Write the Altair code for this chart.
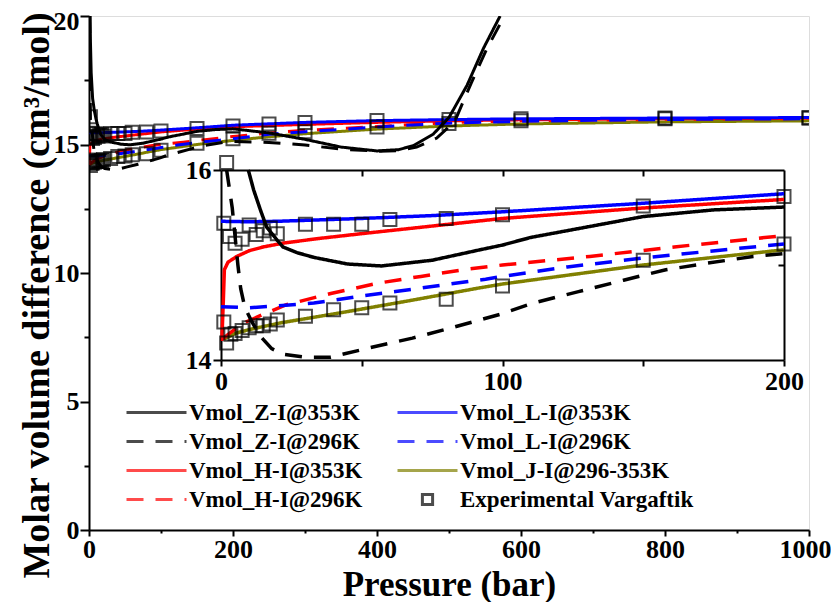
import altair as alt
import pandas as pd

FONT = "Liberation Serif"

Z353 = "Vmol_Z-I@353K"
Z296 = "Vmol_Z-I@296K"
H353 = "Vmol_H-I@353K"
H296 = "Vmol_H-I@296K"
L353 = "Vmol_L-I@353K"
L296 = "Vmol_L-I@296K"
J = "Vmol_J-I@296-353K"
EXP = "Experimental Vargaftik"

# ---- series values (pressure in bar, molar volume difference in cm3/mol) ----
J_x = [1, 5, 10, 21, 45, 68, 92, 100, 150, 200, 250, 300, 400, 500, 600, 800, 1000]
J_y = [14.22, 14.28, 14.32, 14.39, 14.51, 14.63, 14.76, 14.8, 15.0, 15.16, 15.3, 15.42, 15.6, 15.72, 15.8, 15.88, 15.92]

H353_x = [0.3, 0.8, 1.2, 2.5, 5.6, 10, 15, 22, 35, 50, 75, 100, 150, 200, 300, 400, 500, 600, 800, 1000]
H353_y = [14.2, 14.6, 14.95, 15.03, 15.09, 15.15, 15.19, 15.23, 15.28, 15.33, 15.41, 15.49, 15.60, 15.69, 15.78, 15.86, 15.92, 15.96, 16.0, 16.02]

H296_x = [0.5, 3, 8, 15, 23, 39, 56, 71, 86, 100, 131, 161, 200, 250, 300, 400, 500, 600, 800, 1000]
H296_y = [14.22, 14.28, 14.39, 14.48, 14.58, 14.70, 14.81, 14.88, 14.95, 15.0, 15.09, 15.19, 15.31, 15.45, 15.55, 15.7, 15.85, 15.92, 15.98, 16.01]

L296_x = [0, 10, 20, 33, 49, 62, 79, 94, 100, 123, 152, 182, 200, 250, 300, 350, 400, 450, 500, 600, 700, 800, 900, 1000]
L296_y = [14.56, 14.55, 14.57, 14.6, 14.67, 14.72, 14.79, 14.85, 14.88, 14.98, 15.08, 15.17, 15.22, 15.4, 15.5, 15.58, 15.68, 15.76, 15.83, 15.9, 15.94, 15.97, 15.99, 16.0]

L353_x = [0, 10, 20, 30, 50, 75, 100, 150, 200, 300, 400, 500, 600, 800, 1000]
L353_y = [15.46, 15.455, 15.46, 15.47, 15.49, 15.52, 15.56, 15.65, 15.75, 15.86, 15.93, 15.97, 16.0, 16.03, 16.05]

Z353_x = [1.5, 2, 3, 5, 7.5, 9.7, 11.6, 14, 16.2, 20, 22, 27, 33, 45, 57, 75, 92, 100, 110, 150, 175, 200,
          250, 300, 350, 400, 430, 450, 478, 500, 525, 548, 571]
Z353_y = [20, 19, 17.8, 16.8, 16.3, 16.0, 15.79, 15.58, 15.4, 15.26, 15.19, 15.13, 15.08, 15.01, 14.99, 15.05, 15.16, 15.21, 15.29, 15.51, 15.58, 15.61,
          15.45, 15.2, 14.9, 14.75, 14.8, 14.95, 15.4, 16.05, 17.3, 18.75, 20]

Z296_x = [1, 1.5, 2, 3, 4, 5, 6, 7, 8.5, 11, 14, 18, 22, 30, 39, 53, 68, 82, 99, 111, 127, 143, 158, 173, 189, 200,
          250, 300, 350, 400, 430, 455, 483, 508, 531, 553, 577]
Z296_y = [20, 17.5, 16.0, 15.8, 15.6, 15.3, 15.0, 14.75, 14.55, 14.4, 14.25, 14.12, 14.06, 14.03, 14.03, 14.13, 14.23, 14.34, 14.48, 14.6, 14.72, 14.84, 14.95, 15.02, 15.09, 15.12,
          15.08, 14.98, 14.82, 14.74, 14.76, 14.9, 15.25, 15.9, 17.4, 18.75, 20]

EXP_x = [1, 2, 3, 5, 7.5, 10, 12.5, 15, 17.5, 20, 30, 40, 50, 60, 80, 100, 150, 200, 250, 300, 400, 500, 600, 800, 1000,
         1, 2, 3.5, 5, 7.5, 10, 12.5, 15, 17.5, 20, 30, 40, 50, 60, 80, 100, 150, 200, 250, 300, 400, 500, 600, 800, 1000]
EXP_y = [15.44, 16.08, 15.3, 15.23, 15.27, 15.42, 15.32, 15.36, 15.39, 15.33, 15.43, 15.43, 15.43, 15.48, 15.49, 15.53, 15.62, 15.72, 15.8, 15.86, 15.93, 15.97, 16.0, 16.03, 16.05,
         14.4, 14.18, 14.27, 14.28, 14.31, 14.34, 14.36, 14.36, 14.38, 14.42, 14.46, 14.53, 14.55, 14.6, 14.64, 14.78, 15.05, 15.22, 15.44, 15.5, 15.68, 15.82, 15.92, 16.0, 16.02]

# legend order (column-major, 2 columns)
SERIES = [Z353, Z296, H353, H296, L353, L296, J, EXP]
COLORS = ["#000000", "#000000", "#ff0000", "#ff0000", "#0000ff", "#0000ff", "#808000", "#000000"]
DASHES = [[1, 0], [17, 12], [1, 0], [17, 12], [1, 0], [17, 12], [1, 0], [1, 0]]
LINE_PATH = "M-1,0H1"
SQUARE_PATH = "M-0.17,-0.17H0.17V0.17H-0.17Z"
SHAPES = [LINE_PATH] * 7 + [SQUARE_PATH]

rows = []
for name, xs, ys in [(J, J_x, J_y), (H353, H353_x, H353_y), (H296, H296_x, H296_y),
                     (L296, L296_x, L296_y), (L353, L353_x, L353_y),
                     (Z353, Z353_x, Z353_y), (Z296, Z296_x, Z296_y)]:
    for x, y in zip(xs, ys):
        rows.append({"series": name, "x": x, "y": y})
lines_df = pd.DataFrame(rows)
exp_df = pd.DataFrame({"series": EXP, "x": EXP_x, "y": EXP_y})

stroke_scale = alt.Scale(domain=SERIES, range=COLORS)
dash_scale = alt.Scale(domain=SERIES, range=DASHES)
shape_scale = alt.Scale(domain=SERIES, range=SHAPES)

legend = alt.Legend(
    title=None, orient="none", legendX=36, legendY=382, columns=2,
    symbolSize=3600, symbolStrokeWidth=3, labelFont=FONT, labelFontSize=23,
    labelFontWeight="bold", labelColor="#000000", columnPadding=33, rowPadding=0,
    clipHeight=29, labelOffset=1, labelLimit=500, padding=0,
)

W, H = 720, 514
main_x = alt.Scale(domain=[0, 1000], nice=False, zero=False)
main_y = alt.Scale(domain=[0, 20], nice=False, zero=False)
in_x = alt.Scale(domain=[0, 200], range=[132, 695], nice=False, zero=False)
in_y = alt.Scale(domain=[14, 16], range=[344, 154], nice=False, zero=False)

common_axis = dict(
    domainColor="#000000", domainWidth=2, tickColor="#000000", tickWidth=2,
    labelFont=FONT, labelFontSize=26, labelFontWeight="bold", labelColor="#000000",
    titleFont=FONT, titleFontWeight="bold", titleColor="#000000",
    grid=False, labelFlush=False,
)

main_x_axis = alt.Axis(
    orient="bottom", values=list(range(0, 1001, 100)), format="d",
    labelExpr="datum.value % 200 === 0 ? datum.label : ''",
    tickSize={"condition": {"test": "datum.value % 200 === 0", "value": 6}, "value": 3},
    labelOffset={"condition": {"test": "datum.value === 1000", "value": -4}, "value": 0},
    labelPadding=0, title="Pressure (bar)", titleX=360, titleY=65, titleFontSize=35,
    titleBaseline="alphabetic", titleAlign="center", **common_axis,
)
main_y_axis = alt.Axis(
    orient="left", values=[0, 2.5, 5, 7.5, 10, 12.5, 15, 17.5, 20], format="d",
    labelExpr="datum.value % 5 === 0 ? datum.label : ''",
    tickSize={"condition": {"test": "datum.value % 5 === 0", "value": 9}, "value": 5},
    labelOffset={"condition": {"test": "datum.value === 20", "value": 5}, "value": 0},
    labelPadding=1, title="Molar volume difference (cm³/mol)", titleAngle=270, titleFontSize=38,
    titleX=-41, titleY=279, titleBaseline="alphabetic", titleAlign="center", **common_axis,
)
in_x_axis = alt.Axis(
    orient="bottom", offset=-170, values=[0, 50, 100, 150, 200], format="d",
    labelExpr="datum.value % 100 === 0 ? datum.label : ''", tickSize=6,
    labelPadding=2, title=None, **common_axis,
)
in_y_axis = alt.Axis(
    orient="left", offset=-132, values=[14, 15, 16], format="d",
    labelExpr="datum.value === 15 ? '' : datum.label", tickSize=8,
    labelPadding=2, title=None, **common_axis,
)
in_top_axis = alt.Axis(
    orient="bottom", offset=-360, values=[50, 100, 150], labels=False,
    tickSize=6, title=None, **common_axis,
)
in_right_axis = alt.Axis(
    orient="left", offset=-695, values=[15], labels=False,
    tickSize=6, title=None, **common_axis,
)

main_lines = alt.Chart(lines_df).mark_line(strokeWidth=3, clip=True).encode(
    x=alt.X("x:Q", scale=main_x, axis=main_x_axis),
    y=alt.Y("y:Q", scale=main_y, axis=main_y_axis),
    stroke=alt.Stroke("series:N", scale=stroke_scale, legend=legend),
    strokeDash=alt.StrokeDash("series:N", scale=dash_scale, legend=legend),
    order=alt.Order("x:Q"),
)
main_points = alt.Chart(exp_df).mark_point(filled=False, strokeWidth=2, size=5850, clip=True).encode(
    x=alt.X("x:Q", scale=main_x, axis=None),
    y=alt.Y("y:Q", scale=main_y, axis=None),
    stroke=alt.Stroke("series:N", scale=stroke_scale, legend=legend),
    strokeDash=alt.StrokeDash("series:N", scale=dash_scale, legend=legend),
    shape=alt.Shape("series:N", scale=shape_scale, legend=legend),
)

in_filter = (alt.datum.x <= 200) & (alt.datum.y <= 16.0001) & (alt.datum.y >= 13.99)
inset_lines = alt.Chart(lines_df).transform_filter(in_filter).mark_line(strokeWidth=3.5).encode(
    x=alt.X("x:Q", scale=in_x, axis=in_x_axis),
    y=alt.Y("y:Q", scale=in_y, axis=in_y_axis),
    stroke=alt.Stroke("series:N", scale=stroke_scale, legend=legend),
    strokeDash=alt.StrokeDash("series:N", scale=dash_scale, legend=legend),
    order=alt.Order("x:Q"),
)
inset_points = alt.Chart(exp_df).transform_filter(
    (alt.datum.x <= 200) & (alt.datum.y <= 16.1) & (alt.datum.y >= 13.99)
).mark_point(filled=False, strokeWidth=2, size=5850).encode(
    x=alt.X("x:Q", scale=in_x, axis=in_top_axis),
    y=alt.Y("y:Q", scale=in_y, axis=in_right_axis),
    stroke=alt.Stroke("series:N", scale=stroke_scale, legend=legend),
    strokeDash=alt.StrokeDash("series:N", scale=dash_scale, legend=legend),
    shape=alt.Shape("series:N", scale=shape_scale, legend=legend),
)

chart = alt.layer(main_lines, main_points, inset_lines, inset_points).resolve_scale(
    x="independent", y="independent"
).properties(
    width=W, height=H,
    autosize=alt.AutoSizeParams(type="none"),
    padding={"left": 81, "top": 8, "right": 22, "bottom": 72},
).configure_view(
    stroke="#000000", strokeWidth=2
).configure(background="#ffffff")

chart.save("out.html", embed_options={"renderer": "svg", "actions": False})
